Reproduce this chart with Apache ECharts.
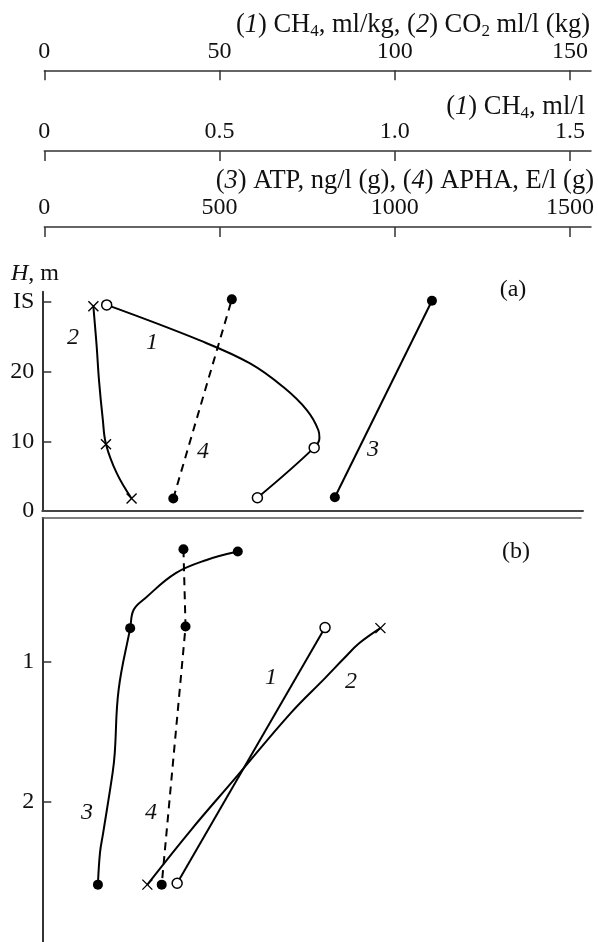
<!DOCTYPE html>
<html><head><meta charset="utf-8">
<script src="https://cdn.jsdelivr.net/npm/echarts@6/dist/echarts.min.js"></script>
<style>html,body{margin:0;padding:0;background:#fff}#c{width:598px;height:942px}</style>
</head><body><div id="c"></div>
<script>
// ---- tick labels ----
const ticksTop1 = [0, 50, 100, 150];          // (1) CH4 ml/kg, (2) CO2
const ticksTop2 = [0, 0.5, 1.0, 1.5];         // (1) CH4 ml/l
const ticksTop3 = [0, 500, 1000, 1500];       // (3) ATP, (4) APHA
const ticksA = [0, 10, 20, 30];
const tickLabelsA = ['0', '10', '20', 'IS'];
const ticksB = [1, 2];

// ---- panel (a): [value, H m] ; curves 1,2 on 0-150 scale, 3,4 on 0-1500 scale ----
const a1Points = [[17.8, 29.6], [77.0, 9.1], [60.8, 1.9]];
const a1Curve = [[17.8, 29.6], [44.4, 24.5], [58.7, 21.2], [68.2, 17.8], [74.9, 14.5], [78.2, 11.6], [78.5, 10.5], [77.0, 9.1], [60.8, 1.9]];
const a2Points = [[14.0, 29.4], [17.6, 9.6], [24.9, 1.8]];
const a2Curve = [[14.0, 29.4], [14.95, 23.6], [15.6, 18.8], [16.7, 13.1], [17.6, 9.6], [20.7, 5.4], [24.9, 1.8]];
const a3Points = [[829, 1.97], [1106, 30.2]];
const a4Points = [[368, 1.8], [535, 30.4]];

// ---- panel (b): [value, depth m] ----
const b1Points = [[80.1, 0.753], [37.9, 2.58]];
const b2Points = [[95.9, 0.757], [29.4, 2.59]];
const b2Curve = [[95.9, 0.757], [89.9, 0.864], [85.6, 0.971], [80.1, 1.114], [70.3, 1.364], [54.5, 1.829], [41.9, 2.198], [29.4, 2.59]];
const b3Points = [[552, 0.21], [245, 0.757], [153, 2.59]];
const b3Curve = [[552, 0.21], [463, 0.27], [375, 0.364], [288, 0.543], [255, 0.626], [245, 0.757], [212, 1.198], [201, 1.65], [195, 1.79], [168, 2.22], [159, 2.36], [153, 2.59]];
const b4Points = [[397, 0.193], [403, 0.746], [335, 2.59]];

// ---- layout ----
const FONT = 'Liberation Serif';
const X0 = 44.3, PX = 3.505;           // pixel of 0, px per unit (0-150 scale)
const AX_END = 591;
const PANEL_L = 42.3, PANEL_R = 583;
const minP = (PANEL_L - X0) / PX;

const lblStyle = { fontFamily: FONT, fontSize: 24, color: '#111' };
const crossPath = 'path://M0,0L10,10M10,0L0,10';
const LW = 2;

function topAxis(grid, max, ticks, fmt) {
  return {
    type: 'value', gridIndex: grid, position: 'top', min: 0, max: max,
    axisLine: { show: true, lineStyle: { color: '#333', width: 1.5 } },
    axisTick: { show: true, inside: true, length: 10, customValues: ticks, lineStyle: { color: '#333', width: 1.5 } },
    axisLabel: Object.assign({ show: true, margin: 6, customValues: ticks, formatter: fmt }, lblStyle),
    splitLine: { show: false }
  };
}
function hiddenY(grid) {
  return { type: 'value', gridIndex: grid, min: 0, max: 1, show: false };
}
const topW = AX_END - X0;
const panelW_A = PANEL_R - PANEL_L;
const panelW_B = 581 - PANEL_L;

const filled = { color: '#000', opacity: 1 };
const open = { color: '#fff', borderColor: '#000', borderWidth: 1.5, opacity: 1 };
const cross = { color: 'none', borderColor: '#000', borderWidth: 1.4, opacity: 1 };

const option = {
  animation: false,
  backgroundColor: '#fff',
  grid: [
    { left: X0, top: 69.3, width: topW, height: 1 },
    { left: X0, top: 150, width: topW, height: 1 },
    { left: X0, top: 226, width: topW, height: 1 },
    { left: PANEL_L, top: 291.7, width: panelW_A, height: 219.3 },
    { left: PANEL_L, top: 518, width: panelW_B, height: 424 }
  ],
  xAxis: [
    topAxis(0, topW / PX, ticksTop1, v => String(v)),
    topAxis(1, topW / PX / 100, ticksTop2, v => (v === 0 ? '0' : v.toFixed(1))),
    topAxis(2, topW / PX * 10, ticksTop3, v => String(v)),
    { type: 'value', gridIndex: 3, position: 'bottom', min: minP, max: minP + panelW_A / PX,
      axisLine: { show: true, onZero: false, lineStyle: { color: '#444', width: 2 } },
      axisTick: { show: false }, axisLabel: { show: false }, splitLine: { show: false } },
    { type: 'value', gridIndex: 3, min: minP * 10, max: (minP + panelW_A / PX) * 10, show: false },
    { type: 'value', gridIndex: 4, position: 'top', min: minP, max: minP + panelW_B / PX,
      axisLine: { show: true, onZero: false, lineStyle: { color: '#555', width: 1.5 } },
      axisTick: { show: false }, axisLabel: { show: false }, splitLine: { show: false } },
    { type: 'value', gridIndex: 4, min: minP * 10, max: (minP + panelW_B / PX) * 10, show: false }
  ],
  yAxis: [
    hiddenY(0), hiddenY(1), hiddenY(2),
    { type: 'value', gridIndex: 3, min: 0, max: 31.5,
      axisLine: { show: true, onZero: false, lineStyle: { color: '#333', width: 2 } },
      axisTick: { show: true, inside: true, length: 9, customValues: ticksA.slice(1), lineStyle: { color: '#333', width: 1.5 } },
      axisLabel: Object.assign({ show: true, margin: 8, customValues: ticksA,
        formatter: v => tickLabelsA[ticksA.indexOf(v)] }, lblStyle),
      splitLine: { show: false } },
    { type: 'value', gridIndex: 4, min: -0.03, max: 3, inverse: true,
      axisLine: { show: true, onZero: false, lineStyle: { color: '#333', width: 2 } },
      axisTick: { show: true, inside: true, length: 9, customValues: ticksB, lineStyle: { color: '#333', width: 1.5 } },
      axisLabel: Object.assign({ show: true, margin: 8, customValues: ticksB }, lblStyle),
      splitLine: { show: false } }
  ],
  series: [
    // panel (a)
    { type: 'line', xAxisIndex: 3, yAxisIndex: 3, data: a1Curve, smooth: 0.4, symbol: 'none', lineStyle: { color: '#000', width: LW }, z: 2 },
    { type: 'scatter', xAxisIndex: 3, yAxisIndex: 3, data: a1Points, symbol: 'circle', symbolSize: 10, itemStyle: open, z: 5 },
    { type: 'line', xAxisIndex: 3, yAxisIndex: 3, data: a2Curve, smooth: 0.4, symbol: 'none', lineStyle: { color: '#000', width: LW }, z: 2 },
    { type: 'scatter', xAxisIndex: 3, yAxisIndex: 3, data: a2Points, symbol: crossPath, symbolSize: 10, itemStyle: cross, z: 5 },
    { type: 'line', xAxisIndex: 4, yAxisIndex: 3, data: a3Points, symbol: 'circle', symbolSize: 10, showAllSymbol: true, itemStyle: filled, lineStyle: { color: '#000', width: LW } },
    { type: 'line', xAxisIndex: 4, yAxisIndex: 3, data: a4Points, symbol: 'circle', symbolSize: 10, showAllSymbol: true, itemStyle: filled, lineStyle: { color: '#000', width: LW, type: [8, 6] } },
    // panel (b)
    { type: 'line', xAxisIndex: 5, yAxisIndex: 4, data: b1Points, symbol: 'circle', symbolSize: 10, showAllSymbol: true, itemStyle: open, lineStyle: { color: '#000', width: LW } },
    { type: 'line', xAxisIndex: 5, yAxisIndex: 4, data: b2Curve, smooth: 0.4, symbol: 'none', lineStyle: { color: '#000', width: LW }, z: 2 },
    { type: 'scatter', xAxisIndex: 5, yAxisIndex: 4, data: b2Points, symbol: crossPath, symbolSize: 10, itemStyle: cross, z: 5 },
    { type: 'line', xAxisIndex: 6, yAxisIndex: 4, data: b3Curve, smooth: 0.4, symbol: 'none', lineStyle: { color: '#000', width: LW }, z: 2 },
    { type: 'scatter', xAxisIndex: 6, yAxisIndex: 4, data: b3Points, symbol: 'circle', symbolSize: 10, itemStyle: filled, z: 5 },
    { type: 'line', xAxisIndex: 6, yAxisIndex: 4, data: b4Points, symbol: 'circle', symbolSize: 10, showAllSymbol: true, itemStyle: filled, lineStyle: { color: '#000', width: LW, type: [8, 6] } }
  ]
};

function rich(sz) {
  return {
    n: { fontFamily: FONT, fontSize: sz, lineHeight: sz + 4, fill: '#111' },
    i: { fontFamily: FONT, fontSize: sz, lineHeight: sz + 4, fontStyle: 'italic', fill: '#111' },
    s: { fontFamily: FONT, fontSize: Math.round(sz * 0.66), lineHeight: 14, verticalAlign: 'bottom', fill: '#111' }
  };
}
function txt(x, y, text, align, sz) {
  sz = sz || 24;
  return { type: 'text', x: x, y: y, silent: true,
    style: { text: text, rich: rich(sz), align: align || 'center', verticalAlign: 'middle', fill: '#111', font: sz + 'px "' + FONT + '"' } };
}
option.graphic = [
  txt(590, 25, '{n|(}{i|1}{n|) CH}{s|4}{n|, ml/kg, (}{i|2}{n|) CO}{s|2}{n| ml/l (kg)}', 'right', 26.5),
  txt(585, 107, '{n|(}{i|1}{n|) CH}{s|4}{n|, ml/l}', 'right', 26.5),
  txt(594, 181, '{n|(}{i|3}{n|) ATP, ng/l (g), (}{i|4}{n|) APHA, E/l (g)}', 'right', 26.5),
  txt(11, 274, '{i|H}{n|, m}', 'left'),
  txt(513, 290, '{n|(a)}'),
  txt(73, 338, '{i|2}'),
  txt(152, 343, '{i|1}'),
  txt(203, 452, '{i|4}'),
  txt(373, 450, '{i|3}'),
  txt(516, 552, '{n|(b)}'),
  txt(271, 678, '{i|1}'),
  txt(351, 682, '{i|2}'),
  txt(87, 813, '{i|3}'),
  txt(151, 813, '{i|4}')
];

const chart = echarts.init(document.getElementById('c'), null, { renderer: 'canvas' });
chart.setOption(option);
</script>
</body></html>
